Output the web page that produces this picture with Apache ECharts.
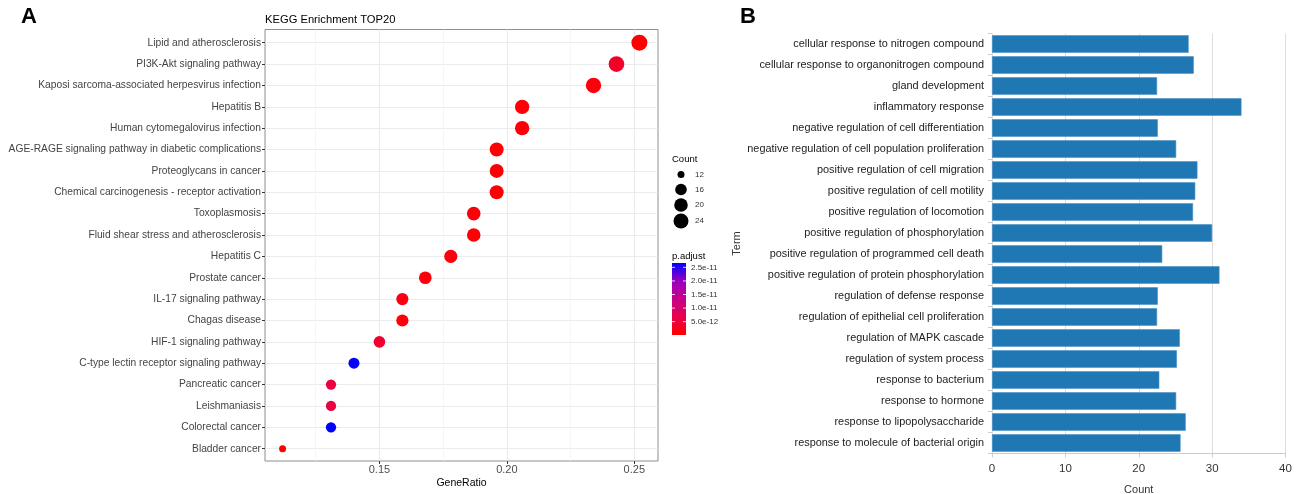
<!DOCTYPE html>
<html>
<head>
<meta charset="utf-8">
<script src="https://cdn.jsdelivr.net/npm/echarts@6/dist/echarts.min.js"></script>
<style>
html,body{margin:0;padding:0;background:#fff;}
#chart{width:1300px;height:494px;}
</style>
</head>
<body>
<div id="chart"></div>
<script>
// ---------- Panel A: KEGG enrichment dot plot ----------
const keggTerms = [
  'Lipid and atherosclerosis',
  'PI3K-Akt signaling pathway',
  'Kaposi sarcoma-associated herpesvirus infection',
  'Hepatitis B',
  'Human cytomegalovirus infection',
  'AGE-RAGE signaling pathway in diabetic complications',
  'Proteoglycans in cancer',
  'Chemical carcinogenesis - receptor activation',
  'Toxoplasmosis',
  'Fluid shear stress and atherosclerosis',
  'Hepatitis C',
  'Prostate cancer',
  'IL-17 signaling pathway',
  'Chagas disease',
  'HIF-1 signaling pathway',
  'C-type lectin receptor signaling pathway',
  'Pancreatic cancer',
  'Leishmaniasis',
  'Colorectal cancer',
  'Bladder cancer'
];
const geneRatio = [0.252, 0.243, 0.234, 0.206, 0.206, 0.196, 0.196, 0.196, 0.187, 0.187,
                   0.178, 0.168, 0.159, 0.159, 0.150, 0.140, 0.131, 0.131, 0.131, 0.112];
const keggCount = [27, 26, 25, 22, 22, 21, 21, 21, 20, 20, 19, 18, 17, 17, 16, 15, 14, 14, 14, 12];
const pAdjust = [2e-13, 3.5e-12, 1e-12, 5e-13, 8e-13, 3e-13, 6e-13, 4e-13, 7e-13, 5e-13,
                 1.2e-12, 9e-13, 1.5e-12, 1e-12, 4e-12, 2.62e-11, 5.5e-12, 5.5e-12, 2.66e-11, 1e-13];
const geneRatioTicks = [0.15, 0.20, 0.25];
const geneRatioMinor = [0.125, 0.175, 0.225];
const sizeLegendCounts = [12, 16, 20, 24];
const pTicks = [2.5e-11, 2.0e-11, 1.5e-11, 1.0e-11, 5.0e-12];
const pTickLabels = ['2.5e-11', '2.0e-11', '1.5e-11', '1.0e-11', '5.0e-12'];

// ---------- Panel B: GO term counts ----------
const goTerms = [
  'cellular response to nitrogen compound',
  'cellular response to organonitrogen compound',
  'gland development',
  'inflammatory response',
  'negative regulation of cell differentiation',
  'negative regulation of cell population proliferation',
  'positive regulation of cell migration',
  'positive regulation of cell motility',
  'positive regulation of locomotion',
  'positive regulation of phosphorylation',
  'positive regulation of programmed cell death',
  'positive regulation of protein phosphorylation',
  'regulation of defense response',
  'regulation of epithelial cell proliferation',
  'regulation of MAPK cascade',
  'regulation of system process',
  'response to bacterium',
  'response to hormone',
  'response to lipopolysaccharide',
  'response to molecule of bacterial origin'
];
const goCount = [26.8, 27.5, 22.5, 34.0, 22.6, 25.1, 28.0, 27.7, 27.4, 30.0,
                 23.2, 31.0, 22.6, 22.5, 25.6, 25.2, 22.8, 25.1, 26.4, 25.7];

// ---------- helpers ----------
const FONT = '"Liberation Sans", Arial, Helvetica, sans-serif';
const cMin = Math.min(...keggCount), cMax = Math.max(...keggCount);
function dotSize(c) { return 7 + 9 * Math.sqrt(Math.max(0, (c - cMin) / (cMax - cMin))); }
const pMin = Math.min(...pAdjust), pMax = Math.max(...pAdjust);
const gradColors = ['#FF0000', '#E7004F', '#C80089', '#9900C1', '#0000FF'];

const xMinA = 0.1051, xMaxA = 0.2593;

const chart = echarts.init(document.getElementById('chart'), null, {renderer: 'canvas'});

// legend graphics
const graphics = [];
graphics.push({type:'text', left: 21, top: 6, style:{text:'A', font:'bold 22px ' + FONT, fill:'#000'}});
graphics.push({type:'text', left: 740, top: 6, style:{text:'B', font:'bold 22px ' + FONT, fill:'#000'}});
graphics.push({type:'text', left: 265, top: 14, style:{text:'KEGG Enrichment TOP20', font:'11.2px ' + FONT, fill:'#000'}});
graphics.push({type:'text', left: 672, top: 154, style:{text:'Count', font:'9.5px ' + FONT, fill:'#000'}});
const legYs = [174.5, 189.5, 205, 221];
sizeLegendCounts.forEach((c, i) => {
  const r = dotSize(c) / 2;
  graphics.push({type:'circle', shape:{cx: 681, cy: legYs[i], r: r}, style:{fill:'#000'}});
  graphics.push({type:'text', x: 695, y: legYs[i], style:{text: String(c), font:'8px ' + FONT, fill:'#333', textVerticalAlign:'middle'}});
});
graphics.push({type:'text', left: 672, top: 251, style:{text:'p.adjust', font:'9.5px ' + FONT, fill:'#000'}});
const cbX = 672, cbTop = 263, cbH = 72, cbW = 14;
graphics.push({type:'rect', shape:{x: cbX, y: cbTop, width: cbW, height: cbH},
  style:{fill: new echarts.graphic.LinearGradient(0, 1, 0, 0,
    gradColors.map((c, i) => ({offset: i / (gradColors.length - 1), color: c})))}});
pTicks.forEach((v, i) => {
  const y = cbTop + cbH - (v - pMin) / (pMax - pMin) * cbH;
  graphics.push({type:'line', shape:{x1: cbX, y1: y, x2: cbX + 3, y2: y}, style:{stroke:'rgba(255,255,255,0.8)', lineWidth: 1}});
  graphics.push({type:'line', shape:{x1: cbX + cbW - 3, y1: y, x2: cbX + cbW, y2: y}, style:{stroke:'rgba(255,255,255,0.8)', lineWidth: 1}});
  graphics.push({type:'text', x: cbX + cbW + 5, y: y, style:{text: pTickLabels[i], font:'8px ' + FONT, fill:'#333', textVerticalAlign:'middle'}});
});

const hiddenAxisParts = {axisLine: {show: false}, axisTick: {show: false}, axisLabel: {show: false}, splitLine: {show: false}};

const option = {
  animation: false,
  backgroundColor: '#fff',
  textStyle: {fontFamily: FONT},
  grid: [
    {left: 265, top: 29.5, width: 393, height: 431.5, show: true, borderColor: '#8f8f8f', borderWidth: 1,
     backgroundColor: 'rgba(0,0,0,0)', containLabel: false, outerBoundsMode: 'none'},
    {left: 265, top: 42.7, width: 393, height: 406, containLabel: false, outerBoundsMode: 'none'},
    {left: 992, top: 33.5, width: 293.5, height: 420, containLabel: false, outerBoundsMode: 'none'}
  ],
  xAxis: [
    {gridIndex: 0, type: 'value', min: xMinA, max: xMaxA,
     axisLine: {show: false},
     axisTick: {show: true, customValues: geneRatioTicks, length: 3, lineStyle: {color: '#333'}},
     axisLabel: {customValues: geneRatioTicks, formatter: v => v.toFixed(2), color: '#4d4d4d', fontSize: 11, margin: 3, fontFamily: FONT},
     splitLine: {show: true, lineStyle: {color: '#EBEBEB', width: 1.1}},
     name: 'GeneRatio', nameLocation: 'middle', nameGap: 17, nameMoveOverlap: false,
     nameTextStyle: {color: '#000', fontSize: 10.5, fontFamily: FONT}},
    {gridIndex: 0, type: 'value', min: xMinA, max: xMaxA,
     axisLine: {show: false},
     axisTick: {show: false, customValues: geneRatioMinor},
     axisLabel: {show: false, customValues: geneRatioMinor},
     splitLine: {show: true, lineStyle: {color: '#F3F3F3', width: 0.8}}},
    Object.assign({gridIndex: 1, type: 'value', min: xMinA, max: xMaxA}, hiddenAxisParts),
    {gridIndex: 2, type: 'value', min: 0, max: 40, interval: 10,
     axisLine: {show: true, lineStyle: {color: '#cccccc'}},
     axisTick: {show: true, length: 4, lineStyle: {color: '#cccccc'}},
     axisLabel: {color: '#333', fontSize: 11.5, margin: 9, fontFamily: FONT},
     splitLine: {show: true, lineStyle: {color: '#dddddd', width: 1}},
     name: 'Count', nameLocation: 'middle', nameGap: 31, nameMoveOverlap: false,
     nameTextStyle: {color: '#333', fontSize: 11, fontFamily: FONT}}
  ],
  yAxis: [
    Object.assign({gridIndex: 0, type: 'value', min: 0, max: 1}, hiddenAxisParts),
    {gridIndex: 1, type: 'category', data: keggTerms, inverse: true, boundaryGap: false,
     axisLine: {show: false},
     axisTick: {show: true, length: 3, lineStyle: {color: '#333'}},
     axisLabel: {color: '#444', fontSize: 10.25, margin: 4, fontFamily: FONT, interval: 0},
     splitLine: {show: true, lineStyle: {color: '#EBEBEB', width: 1.1}}},
    {gridIndex: 2, type: 'category', data: goTerms, inverse: true,
     axisLine: {show: false},
     axisTick: {show: true, length: 4, lineStyle: {color: '#cccccc'}},
     axisLabel: {color: '#222', fontSize: 10.9, margin: 8, fontFamily: FONT, interval: 0},
     splitLine: {show: false},
     name: 'Term', nameLocation: 'middle', nameRotate: 90, nameGap: 250, nameMoveOverlap: false,
     nameTextStyle: {color: '#333', fontSize: 11, fontFamily: FONT}}
  ],
  visualMap: [{
    type: 'continuous', show: false, seriesIndex: 0, dimension: 2,
    min: pMin, max: pMax, inRange: {color: gradColors}
  }],
  series: [
    {type: 'scatter', xAxisIndex: 2, yAxisIndex: 1,
     data: keggTerms.map((t, i) => [geneRatio[i], t, pAdjust[i], keggCount[i]]),
     symbolSize: d => dotSize(d[3]),
     itemStyle: {opacity: 1}},
    {type: 'bar', xAxisIndex: 3, yAxisIndex: 2, data: goCount,
     barCategoryGap: '17%',
     itemStyle: {color: '#1f77b4', borderColor: '#4a90c4', borderWidth: 0.6}}
  ],
  graphic: graphics
};
chart.setOption(option);
</script>
</body>
</html>
